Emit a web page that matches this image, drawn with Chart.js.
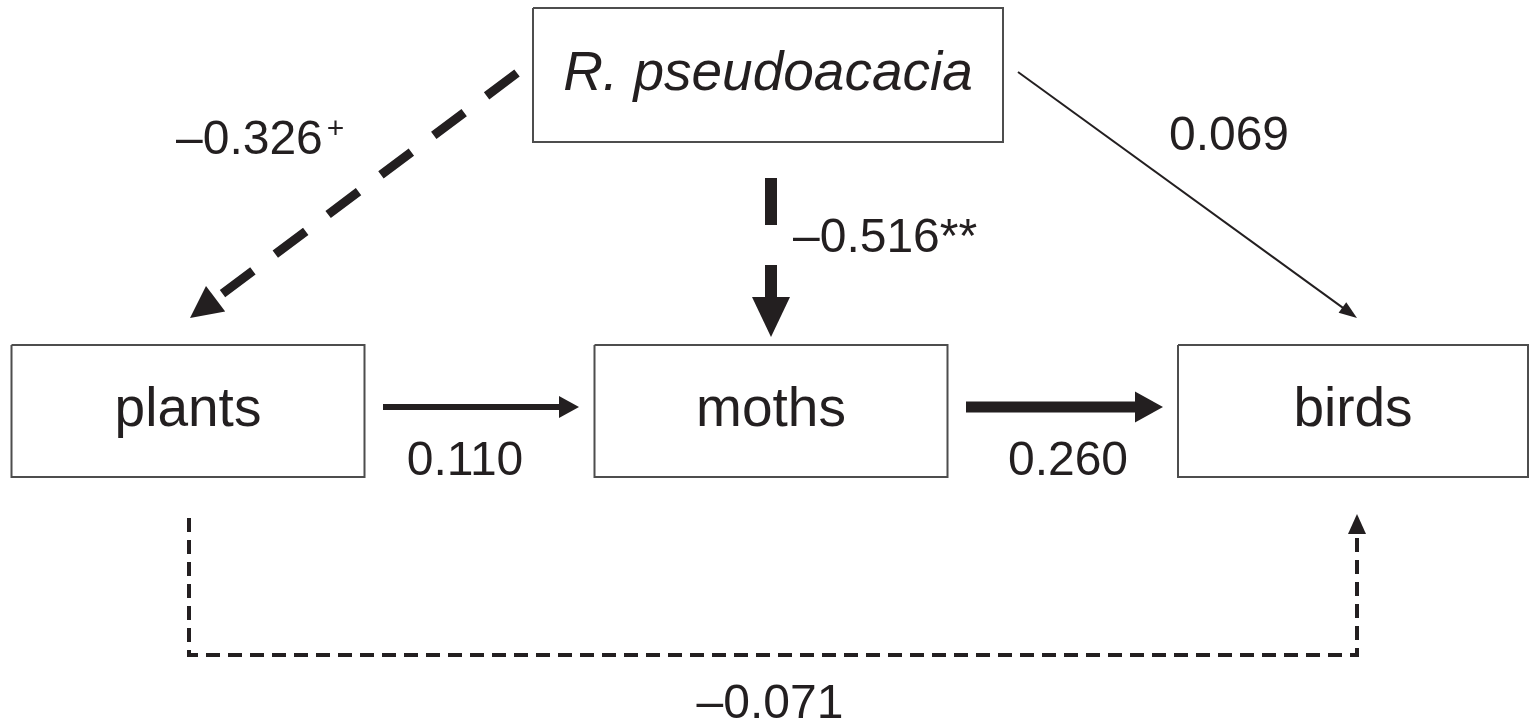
<!DOCTYPE html>
<html>
<head>
<meta charset="utf-8">
<script src="https://cdn.jsdelivr.net/npm/chart.js@4.4.1/dist/chart.umd.min.js"></script>
<style>
  html, body { margin:0; padding:0; background:#fff; overflow:hidden; }
  canvas { display:block; }
</style>
</head>
<body>
<canvas id="diagram" width="1530" height="726"></canvas>
<script>
/* === DATA === */
// boxes of the path model (centre, size)
const nodeNames = ["R. pseudoacacia", "plants", "moths", "birds"];
const nodeItalic = [true, false, false, false];
const nodeX = [768, 188, 771, 1353];
const nodeY = [75, 411, 411, 411];

// path coefficients
const pathFrom = ["R. pseudoacacia", "R. pseudoacacia", "R. pseudoacacia", "plants", "moths", "plants"];
const pathTo   = ["plants", "moths", "birds", "moths", "birds", "birds"];
const pathCoef = ["\u20130.326", "\u20130.516**", "0.069", "0.110", "0.260", "\u20130.071"];
const pathSup  = ["+", "", "", "", "", ""];

/* === LAYOUT === */
const boxW = [470, 353, 353, 350];
const boxH = [134, 132, 132, 132];
// arrow routes, tip is the last point
const routes = [
  [[517,73],[190,318]],
  [[771,178],[771,337]],
  [[1018,72],[1357,318]],
  [[383,407],[579,407]],
  [[966,407],[1163,407]],
  [[189,518],[189,655],[1357,655],[1357,514]]
];
const lineW  = [9, 12, 2, 6, 11, 4];
const dashes = [[38,28], [47,40], [], [], [], [14,8]];
const heads  = [[32,32], [40,38], [18,13], [20,22], [28,31], [20,18]];
const coefPos = [[176,154,"left"], [793,252,"left"], [1229,150,"center"], [465,475,"center"], [1068,475,"center"], [770,718,"center"]];
const INK = "#231f20";

/* === DATASETS === */
const datasets = [];
nodeNames.forEach((n, i) => {
  const x0 = nodeX[i]-boxW[i]/2, x1 = nodeX[i]+boxW[i]/2;
  const y0 = nodeY[i]-boxH[i]/2, y1 = nodeY[i]+boxH[i]/2;
  datasets.push({
    type:"line", label:n,
    data:[{x:x0,y:y0},{x:x1,y:y0},{x:x1,y:y1},{x:x0,y:y1},{x:x0,y:y0}],
    borderColor:"#4d4d4d", borderWidth:2, fill:false, tension:0, pointRadius:0,
    borderJoinStyle:"miter"
  });
});
pathCoef.forEach((c, i) => {
  const pts = routes[i].map(p => ({x:p[0], y:p[1]}));
  // stop the shaft inside the arrow head
  const a = pts[pts.length-2], b = pts[pts.length-1];
  const len = Math.hypot(b.x-a.x, b.y-a.y);
  const cut = heads[i][0]*0.7;
  const end = {x: b.x-(b.x-a.x)/len*cut, y: b.y-(b.y-a.y)/len*cut};
  const shaft = pts.slice(0, -1).concat([end]);
  datasets.push({
    type:"line", label:pathFrom[i]+" -> "+pathTo[i],
    data:shaft, tip:b, headIdx:i,
    borderColor:INK, borderWidth:lineW[i], borderDash:dashes[i],
    borderCapStyle:"butt", borderJoinStyle:"miter",
    fill:false, tension:0, pointRadius:0
  });
});

/* === PLUGINS === */
const arrowHeads = {
  id:"arrowHeads",
  afterDatasetsDraw(chart){
    const ctx = chart.ctx, xs = chart.scales.x, ys = chart.scales.y;
    chart.data.datasets.forEach(ds => {
      if(ds.tip === undefined) return;
      const d = ds.data, a = d[d.length-2];
      const tx = xs.getPixelForValue(ds.tip.x), ty = ys.getPixelForValue(ds.tip.y);
      const ax = xs.getPixelForValue(a.x), ay = ys.getPixelForValue(a.y);
      const ang = Math.atan2(ty-ay, tx-ax);
      const [hl, hw] = heads[ds.headIdx];
      ctx.save();
      ctx.translate(tx, ty); ctx.rotate(ang);
      ctx.beginPath();
      ctx.moveTo(0,0); ctx.lineTo(-hl, hw/2); ctx.lineTo(-hl, -hw/2); ctx.closePath();
      ctx.fillStyle = INK; ctx.fill();
      ctx.restore();
    });
  }
};

const texts = {
  id:"texts",
  afterDraw(chart){
    const ctx = chart.ctx, xs = chart.scales.x, ys = chart.scales.y;
    ctx.save();
    ctx.fillStyle = INK; ctx.textBaseline = "alphabetic";
    nodeNames.forEach((n, i) => {
      ctx.font = (nodeItalic[i] ? "italic " : "") + "55px 'Liberation Sans', Arial, sans-serif";
      ctx.textAlign = "center";
      ctx.fillText(n, xs.getPixelForValue(nodeX[i]), ys.getPixelForValue(nodeY[i]+15));
    });
    pathCoef.forEach((c, i) => {
      const [px, py, al] = coefPos[i];
      ctx.font = "48px 'Liberation Sans', Arial, sans-serif";
      ctx.textAlign = al;
      const x = xs.getPixelForValue(px), y = ys.getPixelForValue(py);
      ctx.fillText(c, x, y);
      if(pathSup[i]){
        const w = ctx.measureText(c).width;
        ctx.font = "30px 'Liberation Sans', Arial, sans-serif";
        ctx.textAlign = "left";
        ctx.fillText(pathSup[i], x + w + 4, y - 16);
      }
    });
    ctx.restore();
  }
};

/* === CHART === */
new Chart(document.getElementById("diagram").getContext("2d"), {
  type:"scatter",
  data:{ datasets },
  options:{
    responsive:false, animation:false,
    layout:{ padding:0 },
    plugins:{ legend:{display:false}, tooltip:{enabled:false} },
    scales:{
      x:{ type:"linear", min:0, max:1530, display:false },
      y:{ type:"linear", min:0, max:726, reverse:true, display:false }
    }
  },
  plugins:[arrowHeads, texts]
});
</script>
</body>
</html>
